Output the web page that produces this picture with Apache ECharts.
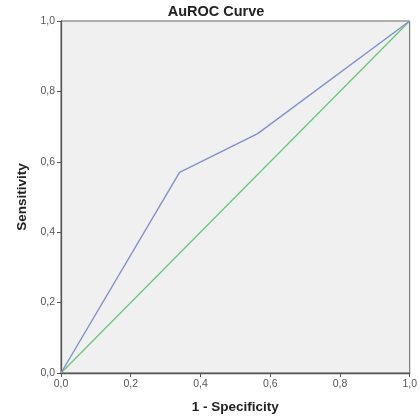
<!DOCTYPE html>
<html>
<head>
<meta charset="utf-8">
<script src="https://cdn.jsdelivr.net/npm/echarts@6/dist/echarts.min.js"></script>
<style>
  html, body { margin: 0; padding: 0; background: #fff; }
  #chart { width: 420px; height: 420px; }
</style>
</head>
<body>
<div id="chart"></div>
<script>
// ROC curve points (1 - specificity, sensitivity)
const rocX = [0, 0.34, 0.564, 1]
const rocY = [0, 0.57, 0.68, 1]
// reference diagonal
const refX = [0, 1]
const refY = [0, 1]

const chart = echarts.init(document.getElementById('chart'))

function fmt(v) {
  return v.toFixed(1).replace('.', ',')
}

const axisCommon = {
  type: 'value',
  min: 0,
  max: 1,
  interval: 0.2,
  splitLine: { show: false },
  axisLine: { show: true, lineStyle: { color: '#555', width: 1.3 } },
  axisTick: { show: true, length: 4, lineStyle: { color: '#555' } },
  axisLabel: {
    formatter: fmt,
    color: '#555',
    fontSize: 10.5,
    margin: 6,
    fontFamily: 'Liberation Sans',
  },
  nameLocation: 'middle',
  nameTextStyle: {
    fontSize: 13.5,
    fontWeight: 'bold',
    color: '#222',
    fontFamily: 'Liberation Sans',
  },
}

chart.setOption({
  animation: false,
  title: {
    text: 'AuROC Curve',
    left: 211,
    textAlign: 'center',
    top: -1,
    textStyle: { fontSize: 14.5, fontWeight: 'bold', color: '#222', fontFamily: 'Liberation Sans' },
  },
  grid: {
    left: 61,
    top: 21,
    right: 8,
    bottom: 47,
    show: true,
    backgroundColor: '#f0f0f0',
    borderColor: '#666',
    borderWidth: 1,
  },
  xAxis: Object.assign({}, axisCommon, {
    name: '1 - Specificity',
    nameGap: 27,
  }),
  yAxis: Object.assign({}, axisCommon, {
    name: 'Sensitivity',
    nameGap: 24,
  }),
  series: [
    {
      type: 'line',
      data: refX.map((x, i) => [x, refY[i]]),
      symbol: 'none',
      lineStyle: { color: '#62c874', width: 1.2 },
      z: 2,
    },
    {
      type: 'line',
      data: rocX.map((x, i) => [x, rocY[i]]),
      symbol: 'none',
      lineStyle: { color: '#7f91cf', width: 1.4 },
      z: 3,
    },
  ],
})
</script>
</body>
</html>
